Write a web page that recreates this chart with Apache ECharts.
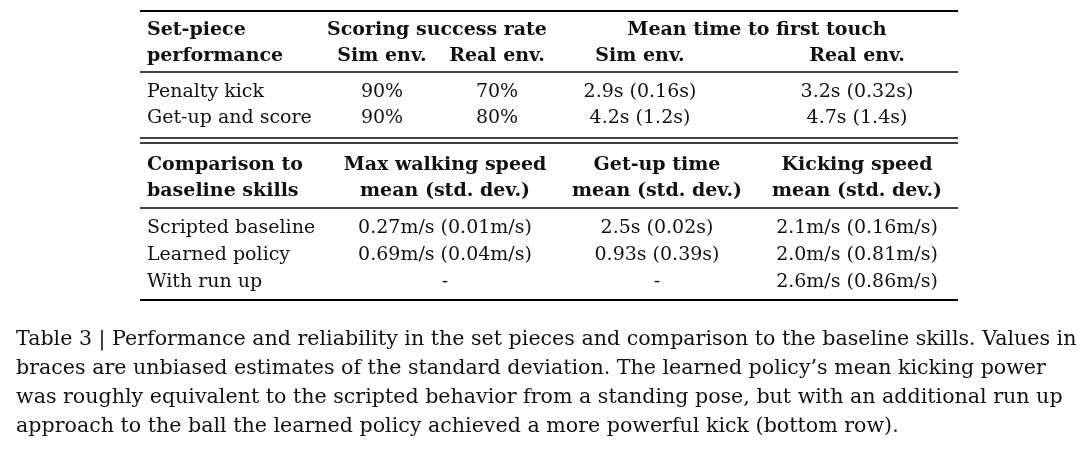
<!DOCTYPE html>
<html><head><meta charset="utf-8">
<script src="https://cdn.jsdelivr.net/npm/echarts@6/dist/echarts.min.js"></script>
<style>html,body{margin:0;background:#fff}#chart{width:1080px;height:450px}</style>
</head><body><div id="chart"></div>
<script>
// Table 3 - set pieces and baseline comparison

const head1 = [['Set-piece', 'performance'], ['Scoring success rate'], ['Mean time to first touch']];
const subHead1 = ['Sim env.', 'Real env.', 'Sim env.', 'Real env.'];
const rows1 = [
  ['Penalty kick', '90%', '70%', '2.9s (0.16s)', '3.2s (0.32s)'],
  ['Get-up and score', '90%', '80%', '4.2s (1.2s)', '4.7s (1.4s)']
];
const head2 = [
  ['Comparison to', 'baseline skills'],
  ['Max walking speed', 'mean (std. dev.)'],
  ['Get-up time', 'mean (std. dev.)'],
  ['Kicking speed', 'mean (std. dev.)']
];
const rows2 = [
  ['Scripted baseline', '0.27m/s (0.01m/s)', '2.5s (0.02s)', '2.1m/s (0.16m/s)'],
  ['Learned policy', '0.69m/s (0.04m/s)', '0.93s (0.39s)', '2.0m/s (0.81m/s)'],
  ['With run up', '-', '-', '2.6m/s (0.86m/s)']
];
const caption = [
  'Table 3 | Performance and reliability in the set pieces and comparison to the baseline skills. Values in',
  'braces are unbiased estimates of the standard deviation. The learned policy\u2019s mean kicking power',
  'was roughly equivalent to the scripted behavior from a standing pose, but with an additional run up',
  'approach to the ball the learned policy achieved a more powerful kick (bottom row).'
];

const chart = echarts.init(document.getElementById('chart'));
const FONT = '"DejaVu Serif", serif';
const g = [];

function txt(x, y, s, align, bold, size) {
  g.push({
    type: 'text', x, y,
    style: {
      text: s, align: align || 'left', verticalAlign: 'middle',
      font: (bold ? 'bold ' : '') + (size || 19) + 'px ' + FONT, fill: '#111'
    }
  });
}
function rule(y, w) {
  g.push({ type: 'line', shape: { x1: 140, y1: y, x2: 958, y2: y }, style: { stroke: '#000', lineWidth: w || 1.3 } });
}

// section 1
rule(11, 1.8);
txt(147, 30, head1[0][0], 'left', true);
txt(147, 56, head1[0][1], 'left', true);
txt(437, 30, head1[1][0], 'center', true);
txt(757, 30, head1[2][0], 'center', true);
const x1 = [382, 497, 640, 857];
subHead1.forEach((s, i) => txt(x1[i], 56, s, 'center', true));
rule(72);
rows1.forEach((r, j) => {
  const y = 92 + j * 26;
  txt(147, y, r[0], 'left');
  r.slice(1).forEach((s, i) => txt(x1[i], y, s, 'center'));
});
rule(138); rule(143);

// section 2
const x2 = [445, 657, 857];
txt(147, 165, head2[0][0], 'left', true);
txt(147, 191, head2[0][1], 'left', true);
head2.slice(1).forEach((h, i) => {
  txt(x2[i], 165, h[0], 'center', true);
  txt(x2[i], 191, h[1], 'center', true);
});
rule(208);
rows2.forEach((r, j) => {
  const y = 228 + j * 27;
  txt(147, y, r[0], 'left');
  r.slice(1).forEach((s, i) => txt(x2[i], y, s, 'center'));
});
rule(300, 1.8);

// caption
caption.forEach((s, i) => txt(16, 340 + i * 29, s, 'left', false, 20.6));

chart.setOption({ animation: false, graphic: g });
</script></body></html>
